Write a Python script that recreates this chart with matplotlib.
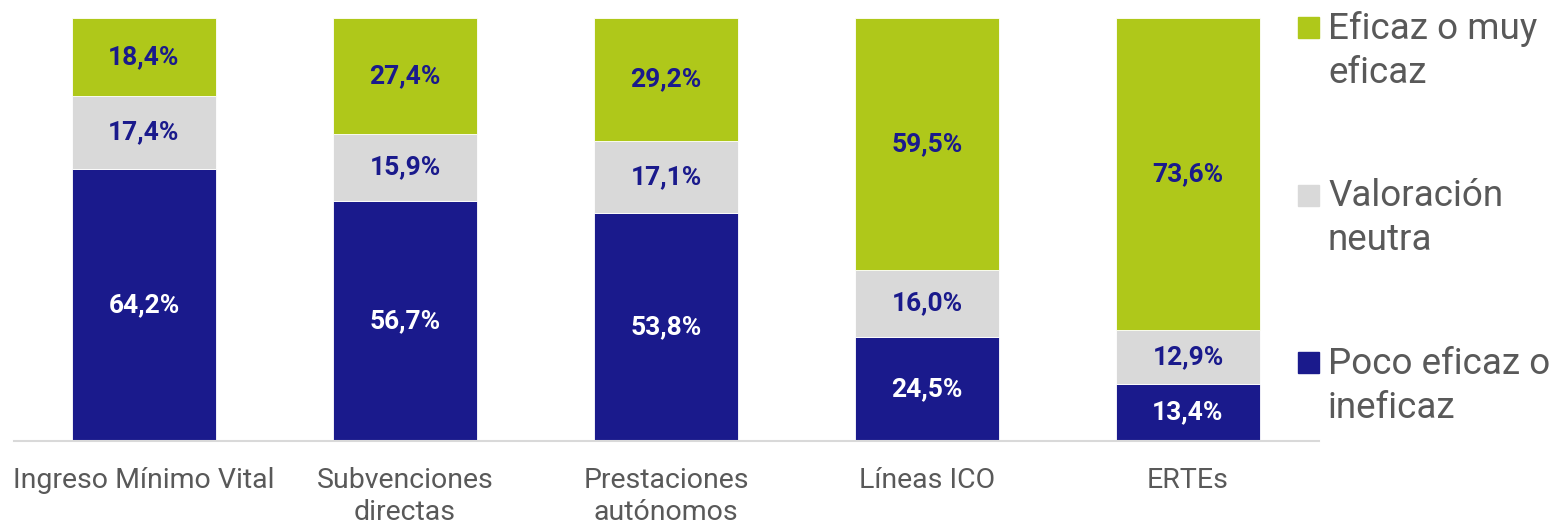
import matplotlib.pyplot as plt
from matplotlib.patches import Rectangle

plt.rcParams['font.family'] = ['Roboto', 'DejaVu Sans']

categorias = ["Ingreso Mínimo Vital", "Subvenciones\ndirectas", "Prestaciones\nautónomos",
              "Líneas ICO", "ERTEs"]
poco_eficaz = [64.2, 56.7, 53.8, 24.5, 13.4]
neutra = [17.4, 15.9, 17.1, 16.0, 12.9]
eficaz = [18.4, 27.4, 29.2, 59.5, 73.6]

series = [
    ("Poco eficaz o\nineficaz", poco_eficaz, "#1a1a8c", "white"),
    ("Valoración\nneutra", neutra, "#d9d9d9", "#1a1a8c"),
    ("Eficaz o muy\neficaz", eficaz, "#afc81a", "#1a1a8c"),
]

W, H = 1557, 522
fig = plt.figure(figsize=(W / 100, H / 100), dpi=100)
ax = fig.add_axes([13.5 / W, (H - 441) / H, (1318.5 - 13.5) / W, (441 - 18) / H])

x = list(range(len(categorias)))
bottom = [0.0] * len(categorias)
for name, vals, color, tcolor in series:
    bars = ax.bar(x, vals, width=0.552, bottom=bottom, color=color,
                  edgecolor="white", linewidth=0.6)
    for xi, b, v in zip(x, bottom, vals):
        ax.text(xi, b + v / 2, f"{v:.1f}%".replace(".", ","), ha="center", va="center",
                color=tcolor, fontsize=19, fontweight="bold")
    bottom = [b + v for b, v in zip(bottom, vals)]

ax.set_xlim(-0.5, 4.5)
ax.set_ylim(0, 100)
ax.set_xticks(x)
ax.set_xticklabels(categorias, fontsize=20.5, color="#595959", linespacing=1.22)
ax.tick_params(axis="x", length=0, pad=19)
ax.set_yticks([])
for s in ["top", "right", "left"]:
    ax.spines[s].set_visible(False)
ax.spines["bottom"].set_color("#d9d9d9")
ax.spines["bottom"].set_linewidth(1.5)

# legend drawn by hand so the marker sits on the first text line
leg_items = list(reversed(series))
for i, (name, vals, color, tcolor) in enumerate(leg_items):
    top = 17 + i * 167.5
    fig.add_artist(Rectangle((1298 / W, (H - top - 21) / H), 21 / W, 21 / H,
                             transform=fig.transFigure, color=color))
    # va="baseline" puts the last line on y, so drop one line gap below the marker
    fig.text(1328 / W, (H - top - 22 - 44) / H, name, fontsize=26.5, color="#595959",
             va="baseline", ha="left", linespacing=1.29)

fig.savefig("out.png", dpi=100)
